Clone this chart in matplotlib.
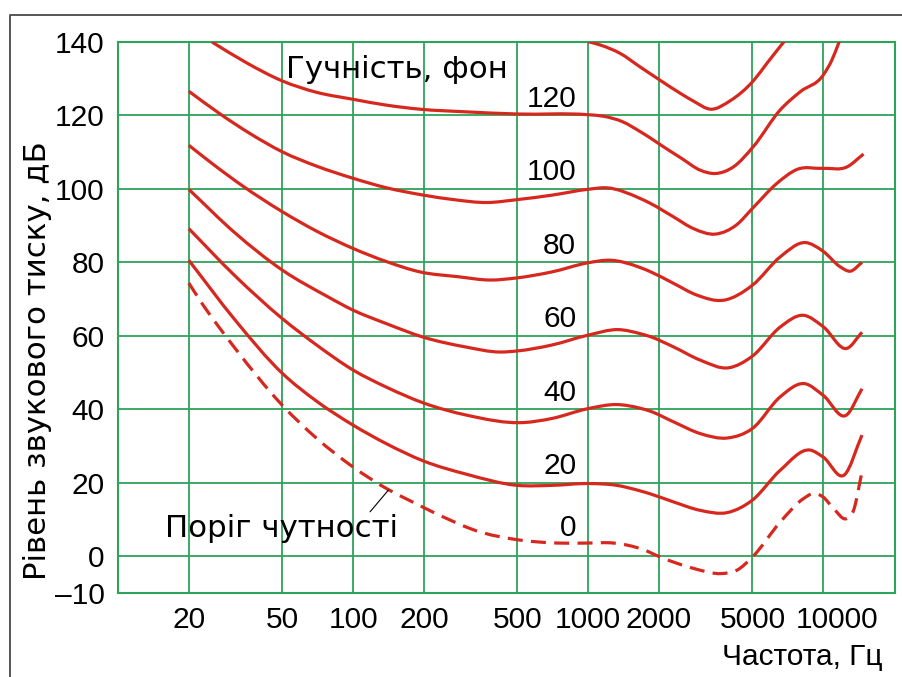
import numpy as np
import matplotlib
matplotlib.use('Agg')
import matplotlib.pyplot as plt
from matplotlib.lines import Line2D
from matplotlib.path import Path
from matplotlib.patches import PathPatch
from matplotlib.ticker import NullLocator
from matplotlib.transforms import ScaledTranslation

plt.rcParams['font.family'] = ['Liberation Sans', 'DejaVu Sans']

# equal-loudness contours (Hz, dB)
freq_140 = [1000, 1124, 1368, 1665, 2000, 2500, 2806, 3330, 4019, 5070, 5760, 6890]
spl_140 = [140.1, 139.2, 136.9, 133.2, 129.8, 125.8, 123.9, 121.7, 124.0, 129.6, 134.2, 140.5]

freq_120 = [25.1, 35.3, 50, 70, 100, 139, 193, 300, 500, 1000, 1158, 1400, 1665, 1836,
            2000, 2500, 3000, 3470, 4150, 5040, 6560, 8000, 10000, 10890, 11730]
spl_120 = [140.0, 134.3, 129.4, 126.3, 124.4, 122.8, 121.7, 121.0, 120.4, 120.2, 119.8, 118.3,
           115.6, 113.9, 112.3, 108.3, 105.1, 104.2, 106.0, 111.5, 121.5, 126.5, 131.0, 135.1, 140.3]

freq_100 = [20, 27.2, 36.4, 50, 70, 100, 139, 200, 267, 371, 500, 700, 1000, 1201, 1665,
            1836, 2307, 2806, 3470, 4293, 5000, 6350, 7730, 10000, 12620, 14840]
spl_100 = [126.6, 120.4, 115.1, 110.1, 106.2, 102.9, 100.3, 98.3, 97.1, 96.3, 97.1, 98.3, 99.9,
           100.3, 97.4, 96.1, 92.4, 89.2, 87.7, 90.3, 94.7, 101.5, 105.3, 105.6, 106.0, 109.5]

freq_80 = [20, 25.4, 34.1, 50, 70, 100, 139, 193, 280, 383, 500, 700, 1000, 1241, 1665, 1836,
           2307, 2901, 3767, 5000, 6560, 8380, 10000, 11810, 13030, 14620]
spl_80 = [111.9, 106.7, 100.7, 93.8, 88.5, 83.8, 80.2, 77.4, 76.1, 75.2, 75.8, 77.4, 79.9, 80.6,
          78.6, 77.5, 74.3, 71.1, 69.7, 73.8, 81.5, 85.4, 83.0, 78.8, 77.6, 80.0]

freq_60 = [20, 31.5, 50, 77.3, 100, 139, 200, 300, 422, 500, 700, 1000, 1346, 1665, 1836,
           2307, 2998, 3954, 5000, 6560, 8245, 10000, 12620, 14620]
spl_60 = [99.9, 88.0, 77.9, 70.8, 67.0, 63.3, 59.6, 57.0, 55.6, 55.9, 57.5, 60.2, 61.7, 60.6,
          59.8, 57.0, 53.4, 51.3, 54.5, 62.4, 65.6, 62.5, 56.6, 61.0]

freq_40 = [20, 31.5, 50, 70, 100, 139, 200, 305, 530, 700, 1000, 1325, 1665, 1836, 2307, 2998,
           3916, 5000, 6560, 8320, 10000, 12530, 14620]
spl_40 = [89.2, 76.3, 64.7, 57.5, 50.7, 46.0, 41.7, 38.4, 36.4, 37.5, 40.2, 41.3, 40.3, 39.5,
          36.6, 33.4, 32.2, 34.8, 43.4, 47.0, 43.8, 38.4, 45.6]

freq_20 = [20, 31.5, 50, 70, 100, 139, 200, 305, 500, 700, 1000, 1325, 1665, 1836, 2307, 2998,
           3916, 5000, 6560, 8810, 10000, 12330, 14620]
spl_20 = [80.6, 64.3, 49.8, 42.2, 35.7, 30.6, 25.9, 22.3, 19.3, 19.3, 19.8, 19.3, 17.8, 17.0,
          14.8, 12.5, 11.9, 15.3, 23.4, 28.9, 27.0, 22.2, 33.0]

freq_thr = [20, 22.3, 31.5, 50, 70, 100, 139, 175, 242, 336, 500, 736, 1000, 1282, 1718, 2025,
            2806, 3706, 4293, 5000, 6560, 8245, 9095, 10000, 11060, 12620, 13460, 14620]
spl_thr = [74.4, 69.7, 56.6, 41.1, 32.1, 24.3, 18.4, 15.1, 10.7, 6.9, 4.5, 3.6, 3.6, 3.6, 1.8, -0.2,
           -3.3, -4.7, -3.8, -0.2, 9.3, 15.7, 17.1, 16.1, 13.0, 10.3, 12.5, 23.0]

phon_levels = [120, 100, 80, 60, 40, 20, 0]
x_ticks = [20, 50, 100, 200, 500, 1000, 2000, 5000, 10000]
y_ticks = [-10, 0, 20, 40, 60, 80, 100, 120, 140]
y_tick_labels = ['–10', '0', '20', '40', '60', '80', '100', '120', '140']

red = '#d7281f'
green = '#2ea35a'
fs = 21.5
fs_text = 22.2


def smooth_path(freq, spl):
    # cubic bezier through the read points, in log-frequency space
    u = np.log10(freq)
    v = np.asarray(spl, dtype=float)
    h = np.diff(u)
    d = np.diff(v) / h
    m = np.empty_like(v)
    m[0], m[-1] = d[0], d[-1]
    m[1:-1] = (d[:-1] * h[1:] + d[1:] * h[:-1]) / (h[:-1] + h[1:])
    verts = [(freq[0], v[0])]
    codes = [Path.MOVETO]
    for i in range(len(h)):
        c1 = (10 ** (u[i] + h[i] / 3), v[i] + m[i] * h[i] / 3)
        c2 = (10 ** (u[i + 1] - h[i] / 3), v[i + 1] - m[i + 1] * h[i] / 3)
        verts += [c1, c2, (freq[i + 1], v[i + 1])]
        codes += [Path.CURVE4] * 3
    return Path(verts, codes)


fig = plt.figure(figsize=(9.02, 6.77), dpi=100)
ax = fig.add_axes([118 / 902, 1 - 593 / 677, 777 / 902, 551 / 677])

ax.set_xscale('log')
ax.set_xlim(10, 20200)
ax.set_ylim(-10, 140)

curves = [(freq_140, spl_140), (freq_120, spl_120), (freq_100, spl_100), (freq_80, spl_80),
          (freq_60, spl_60), (freq_40, spl_40), (freq_20, spl_20)]
for f, s in curves:
    ax.add_patch(PathPatch(smooth_path(f, s), fill=False, edgecolor=red, lw=2.3,
                           capstyle='butt', zorder=3))
ax.add_patch(PathPatch(smooth_path(freq_thr, spl_thr), fill=False, edgecolor=red, lw=2.3,
                       linestyle=(0, (4.7, 2.6)), capstyle='butt', zorder=3))

ax.set_xticks(x_ticks)
ax.set_xticklabels([str(t) for t in x_ticks])
ax.xaxis.set_minor_locator(NullLocator())
ax.set_yticks(y_ticks)
ax.set_yticklabels(y_tick_labels)
ax.tick_params(length=0, labelsize=fs)
ax.tick_params(axis='y', pad=9.5)
ax.tick_params(axis='x', pad=9)
# last label sits a little to the right of its grid line
last = ax.get_xticklabels()[-1]
last.set_transform(last.get_transform() + ScaledTranslation(14 / 100, 0, fig.dpi_scale_trans))
ax.grid(True, color=green, lw=1.3, zorder=1)
for sp in ax.spines.values():
    sp.set_color(green)
    sp.set_linewidth(1.5)

# phon labels above each contour near 1 kHz
for lvl in phon_levels:
    off = 5.4 if lvl == 0 else 2.4
    ax.text(890, lvl + off, str(lvl), ha='right', va='baseline', fontsize=fs, zorder=4)

ax.text(52, 130.1, 'Гучність, фон', ha='left', va='baseline', fontsize=fs_text,
        family='DejaVu Sans', zorder=4)
ax.text(15.85, 5.3, 'Поріг чутності', ha='left', va='baseline', fontsize=fs_text,
        family='DejaVu Sans', zorder=4)
ax.annotate('', xy=(141.3, 18.0), xytext=(118.1, 12.1),
            arrowprops=dict(arrowstyle='-', color='black', lw=0.8, shrinkA=0, shrinkB=0))

fig.text(38 / 902, 1 - 361 / 677, 'Рівень звукового тиску, дБ', rotation=90,
         ha='center', va='center', fontsize=fs_text, family='DejaVu Sans')
fig.text(883 / 902, 1 - 657 / 677, 'Частота, Гц', ha='right', va='center', fontsize=fs)

# outer frame on the top and left
fig.add_artist(Line2D([10 / 902, 10 / 902, 1], [0, 1 - 15 / 677, 1 - 15 / 677],
                      transform=fig.transFigure, color='#555555', lw=1.4))

fig.savefig('out.png', dpi=100)
plt.close(fig)
